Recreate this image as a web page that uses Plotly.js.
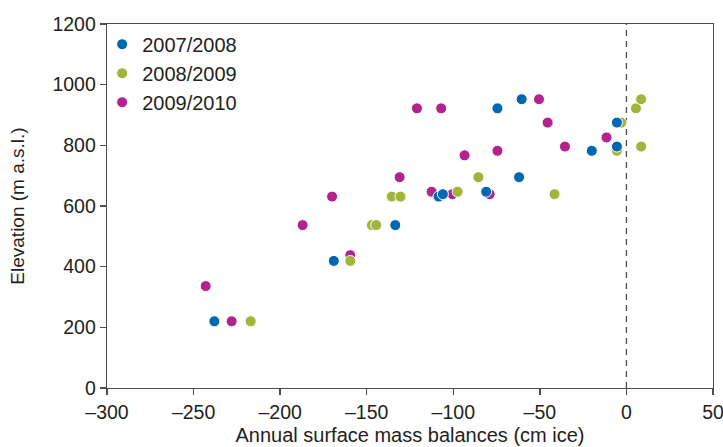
<!DOCTYPE html>
<html>
<head>
<meta charset="utf-8">
<script src="https://cdn.plot.ly/plotly-3.0.1.min.js"></script>
<style>html,body{margin:0;padding:0;background:#fff;}#chart{width:723px;height:447px;}</style>
</head>
<body>
<div id="chart"></div>
<script>
// Series names
const seriesNames = ["2007/2008", "2008/2009", "2009/2010"];
const seriesColors = ["#0068b1", "#a0b53a", "#b4238d"];

// 2007/2008: annual surface mass balance (cm ice) and elevation (m a.s.l.)
const balance0708 = [-238, -169, -133.5, -108.5, -106, -81, -62, -74.5, -60.5, -20, -5.5, -5.5];
const elev0708    = [220, 419, 537, 631, 639, 647, 695, 922, 952, 782, 796, 875];

// 2008/2009
const balance0809 = [-217, -159.5, -147, -144.5, -135.5, -130.5, -97.5, -85.5, -41.5, -5.5, -3, 8.5, 5.5, 8.5];
const elev0809    = [220, 419, 537, 537, 631, 631, 647, 695, 639, 782, 875, 796, 922, 952];

// 2009/2010
const balance0910 = [-243, -228, -187, -170, -159.5, -131, -121, -107, -112.5, -100.5, -79, -93.5, -74.5, -50.5, -45.5, -35.5, -11.5];
const elev0910    = [336, 220, 537, 631, 438, 695, 922, 922, 647, 639, 639, 767, 782, 952, 875, 796, 826];

const xTicks = [-300, -250, -200, -150, -100, -50, 0, 50];
const yTicks = [0, 200, 400, 600, 800, 1000, 1200];

const font = "Liberation Sans, Arial, Helvetica, sans-serif";

function mk(name, x, y, color, rank) {
  return {
    type: "scatter", mode: "markers", name: name, x: x, y: y,
    legendrank: rank,
    marker: {size: 11, color: color, line: {color: "#ffffff", width: 1}},
    cliponaxis: false
  };
}

const data = [
  mk(seriesNames[2], balance0910, elev0910, seriesColors[2], 3),
  mk(seriesNames[1], balance0809, elev0809, seriesColors[1], 2),
  mk(seriesNames[0], balance0708, elev0708, seriesColors[0], 1)
];

const layout = {
  width: 723, height: 447,
  margin: {l: 107, r: 10, t: 24, b: 59},
  paper_bgcolor: "#ffffff", plot_bgcolor: "#ffffff",
  font: {family: font, size: 19, color: "#231f20"},
  showlegend: true,
  legend: {
    x: -0.008, y: 0.998, xanchor: "left", yanchor: "top",
    bgcolor: "rgba(0,0,0,0)", font: {size: 20, family: font, color: "#231f20"},
    tracegroupgap: 0, itemwidth: 30
  },
  xaxis: {
    range: [-300, 50.0001], tickvals: xTicks, ticktext: xTicks.map(v => v < 0 ? "\u2013" + Math.abs(v) : String(v)),
    showgrid: false, zeroline: false,
    showline: true, linecolor: "#4d4d4d", linewidth: 1.3, mirror: true,
    ticks: "outside", ticklen: 6, tickcolor: "#4d4d4d", tickwidth: 1.3,
    ticklabeloverflow: "allow",
    tickfont: {size: 19.5, family: font, color: "#231f20"},
    title: {text: "Annual surface mass balances (cm ice)", font: {size: 20, family: font, color: "#231f20"}, standoff: 6}
  },
  yaxis: {
    range: [0, 1200], tickvals: yTicks,
    showgrid: false, zeroline: false,
    showline: true, linecolor: "#4d4d4d", linewidth: 1.3, mirror: true,
    ticks: "outside", ticklen: 6, tickcolor: "#4d4d4d", tickwidth: 1.3,
    tickfont: {size: 19.5, family: font, color: "#231f20"},
    title: {text: "Elevation (m a.s.l.)", font: {size: 19, family: font, color: "#231f20"}, standoff: 22}
  },
  shapes: [{
    type: "line", xref: "x", yref: "paper", x0: 0, x1: 0, y0: 0, y1: 1,
    line: {color: "#4d4d4d", width: 1.3, dash: "6px,5px"}, layer: "below"
  }]
};

Plotly.newPlot("chart", data, layout, {displayModeBar: false, staticPlot: true});
</script>
</body>
</html>
